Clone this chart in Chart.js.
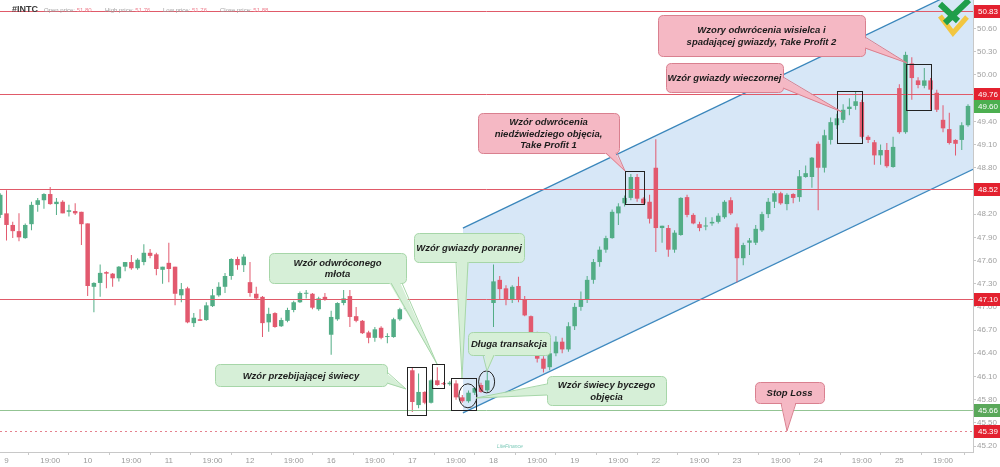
<!DOCTYPE html>
<html>
<head>
<meta charset="utf-8">
<script src="https://cdn.jsdelivr.net/npm/chart.js@4/dist/chart.umd.min.js"></script>
<style>
  html, body { margin: 0; padding: 0; background: #fff; }
  canvas { display: block; }
</style>
</head>
<body>
<canvas id="chart" width="1000" height="467"></canvas>
<script>
// INTC 30-minute candles, one entry per bar
const open = [
  48.19, 48.21, 48.06, 47.98, 47.89, 48.07, 48.32, 48.38, 48.46, 48.33, 48.36, 48.23, 48.24, 48.23,
  48.08, 47.26, 47.31, 47.45, 47.43, 47.37, 47.52, 47.58, 47.50, 47.58, 47.70, 47.68, 47.48,
  47.57, 47.52, 47.15, 47.24, 46.79, 46.84, 46.83, 47.01, 47.15, 47.26, 47.40, 47.62, 47.54,
  47.32, 47.17, 47.13, 46.80, 46.92, 46.75, 46.82, 46.96, 47.06, 47.17, 47.17, 46.97, 47.13,
  46.64, 46.84, 47.05, 47.14, 46.88, 46.82, 46.67, 46.60, 46.73, 46.61, 46.61, 46.84, 46.97,
  46.18, 45.73, 45.90, 45.76, 46.05, 46.01, 46.00, 46.01, 45.83, 45.78, 45.89, 45.99, 45.92,
  47.05, 47.35, 47.24, 47.09, 47.27, 47.10, 46.88, 46.66, 46.33, 46.22, 46.40, 46.55, 46.45,
  46.75, 47.00, 47.10, 47.35, 47.58, 47.74, 47.89, 48.21, 48.34, 48.41, 48.68, 48.40, 48.36,
  48.80, 48.02, 48.02, 47.74, 47.93, 48.42, 48.19, 48.07, 48.04, 48.08, 48.10, 48.16, 48.38,
  48.03, 47.63, 47.83, 47.83, 47.99, 48.20, 48.36, 48.47, 48.33, 48.46, 48.42, 48.68, 48.68,
  49.11, 48.80, 49.16, 49.35, 49.42, 49.56, 49.60, 49.65, 49.20, 49.13, 48.96, 49.03, 48.81,
  49.83, 49.26, 50.15, 49.93, 49.86, 49.93, 49.77, 49.42, 49.30, 49.16, 49.16, 49.35
];
const high = [
  48.47, 48.51, 48.10, 48.21, 48.08, 48.36, 48.41, 48.47, 48.55, 48.41, 48.38, 48.32, 48.34, 48.23,
  48.08, 47.32, 47.55, 47.46, 47.44, 47.53, 47.58, 47.67, 47.63, 47.81, 47.75, 47.70, 47.52,
  47.83, 47.52, 47.31, 47.26, 46.92, 46.97, 47.06, 47.23, 47.32, 47.44, 47.63, 47.65, 47.68,
  47.58, 47.26, 47.14, 46.99, 46.93, 46.86, 46.99, 47.08, 47.20, 47.22, 47.18, 47.13, 47.18,
  46.95, 47.06, 47.22, 47.22, 47.00, 46.83, 46.69, 46.74, 46.75, 46.66, 46.86, 46.99, 47.11,
  46.22, 46.14, 45.91, 46.06, 46.22, 46.03, 46.04, 46.05, 45.86, 45.92, 45.96, 46.02, 46.16,
  47.55, 47.40, 47.28, 47.28, 47.39, 47.14, 46.89, 46.68, 46.36, 46.45, 46.62, 46.60, 46.80,
  47.05, 47.20, 47.40, 47.62, 47.78, 47.92, 48.26, 48.34, 48.44, 48.72, 48.72, 48.42, 48.45,
  49.17, 48.05, 48.06, 47.99, 48.42, 48.45, 48.21, 48.10, 48.16, 48.16, 48.21, 48.38, 48.42,
  48.08, 47.83, 47.89, 48.06, 48.23, 48.41, 48.50, 48.49, 48.47, 48.47, 48.77, 48.83, 48.94,
  49.14, 49.29, 49.45, 49.50, 49.62, 49.70, 49.78, 49.68, 49.22, 49.16, 49.10, 49.12, 49.20,
  49.88, 50.30, 50.23, 49.97, 50.09, 49.96, 49.81, 49.61, 49.51, 49.17, 49.39, 49.62
];
const low = [
  48.15, 47.86, 47.89, 47.85, 47.88, 47.99, 48.23, 48.27, 48.32, 48.19, 48.21, 48.17, 48.19, 47.80,
  47.14, 46.93, 47.13, 47.24, 47.26, 47.33, 47.46, 47.48, 47.48, 47.54, 47.63, 47.41, 47.30,
  47.32, 47.02, 47.06, 46.79, 46.74, 46.82, 46.82, 47.00, 47.13, 47.18, 47.35, 47.48, 47.45,
  47.13, 47.09, 46.61, 46.68, 46.73, 46.74, 46.80, 46.93, 47.05, 47.11, 46.97, 46.95, 47.08,
  46.38, 46.82, 47.02, 46.74, 46.80, 46.65, 46.53, 46.55, 46.58, 46.53, 46.60, 46.82, 46.95,
  45.64, 45.69, 45.74, 45.75, 45.98, 45.99, 45.98, 45.80, 45.76, 45.76, 45.86, 45.89, 45.90,
  46.74, 47.09, 47.02, 47.05, 47.06, 46.88, 46.61, 46.28, 46.15, 46.18, 46.36, 46.40, 46.42,
  46.70, 46.95, 47.05, 47.30, 47.52, 47.70, 47.88, 48.06, 48.30, 48.38, 48.36, 48.32, 48.08,
  47.71, 47.83, 47.65, 47.70, 47.92, 48.16, 48.07, 47.98, 47.99, 48.05, 48.08, 48.14, 48.19,
  47.32, 47.54, 47.67, 47.80, 47.97, 48.15, 48.28, 48.32, 48.25, 48.34, 48.36, 48.67, 48.54,
  48.25, 48.74, 49.10, 49.30, 49.38, 49.48, 49.55, 49.18, 49.12, 48.84, 48.84, 48.80, 48.80,
  49.24, 49.24, 49.68, 49.83, 49.83, 49.55, 49.52, 49.26, 49.10, 48.96, 49.03, 49.33
];
const close = [
  48.45, 48.06, 47.98, 47.90, 48.06, 48.32, 48.38, 48.46, 48.33, 48.36, 48.21, 48.25, 48.21, 48.07,
  47.27, 47.31, 47.44, 47.43, 47.37, 47.52, 47.58, 47.50, 47.61, 47.70, 47.66, 47.49, 47.52,
  47.49, 47.17, 47.23, 46.80, 46.86, 46.82, 47.02, 47.15, 47.26, 47.40, 47.62, 47.54, 47.65,
  47.18, 47.11, 46.79, 46.91, 46.74, 46.83, 46.96, 47.06, 47.18, 47.18, 46.99, 47.11, 47.09,
  46.87, 47.05, 47.11, 46.87, 46.82, 46.66, 46.60, 46.71, 46.60, 46.62, 46.84, 46.97, 47.08,
  45.77, 45.90, 45.76, 46.05, 45.99, 46.00, 46.02, 45.83, 45.78, 45.89, 45.95, 45.90, 46.05,
  47.33, 47.23, 47.09, 47.26, 47.09, 46.89, 46.66, 46.33, 46.20, 46.40, 46.55, 46.45, 46.75,
  47.00, 47.10, 47.35, 47.58, 47.74, 47.89, 48.23, 48.30, 48.41, 48.68, 48.40, 48.34, 48.14,
  48.02, 48.05, 47.74, 47.96, 48.41, 48.19, 48.08, 48.02, 48.05, 48.10, 48.18, 48.36, 48.21,
  47.63, 47.80, 47.86, 48.01, 48.20, 48.36, 48.47, 48.34, 48.45, 48.41, 48.69, 48.73, 48.93,
  48.80, 49.22, 49.39, 49.44, 49.55, 49.59, 49.66, 49.20, 49.16, 48.96, 49.03, 48.82, 49.07,
  49.26, 50.26, 49.96, 49.87, 49.93, 49.81, 49.55, 49.31, 49.12, 49.11, 49.35, 49.60
];

// x axis: first bar of each session and the 19:00 bar
const dayLabels = ['9', '10', '11', '12', '16', '17', '18', '19', '22', '23', '24', '25'];
const dayStart = [1, 14, 27, 40, 53, 66, 79, 92, 105, 118, 131, 144];
const yTicks = [45.20, 45.50, 45.80, 46.10, 46.40, 46.70, 47.00, 47.30, 47.60, 47.90,
                48.20, 48.50, 48.80, 49.10, 49.40, 49.70, 50.00, 50.30, 50.60];

// levels drawn on the chart
const redLevels = [50.83, 49.76, 48.52, 47.10];
const greenLevel = 45.66;
const stopLevel = 45.39;
const lastPrice = 49.60;

// rising channel (bar index, price)
const channelTop = [{ x: 74.1, y: 48.02 }, { x: 155.8, y: 51.18 }];
const channelBottom = [{ x: 74.1, y: 45.63 }, { x: 155.8, y: 48.78 }];

// pattern markers (bar index range, price range)
const patternBoxes = [
  { i0: 65.1, i1: 68.2, v0: 45.60, v1: 46.22 },
  { i0: 69.1, i1: 71.1, v0: 45.95, v1: 46.26 },
  { i0: 72.2, i1: 76.2, v0: 45.67, v1: 46.08 },
  { i0: 100.0, i1: 103.1, v0: 48.33, v1: 48.76 },
  { i0: 134.0, i1: 138.0, v0: 49.12, v1: 49.79 },
  { i0: 145.0, i1: 149.0, v0: 49.55, v1: 50.14 }
];
const patternRings = [
  { i: 74.9, v: 45.85, rx: 9, ry: 12 },
  { i: 77.9, v: 46.03, rx: 8, ry: 11 }
];

const GREEN = '#52ad86';
const RED = '#e2596e';

const idx = open.map((_, i) => i);
const candleColors = idx.map(i => close[i] >= open[i] ? GREEN : RED);

const xTicks = [];
const xTickLabel = {};
dayStart.forEach((d, k) => {
  xTicks.push(d, d + 7);
  xTickLabel[d] = dayLabels[k];
  xTickLabel[d + 7] = '19:00';
});

const callouts = [
  { lines: ['Wzór odwróconego', 'młota'], x: 269, y: 253, w: 137, h: 30, kind: 'g', base: [[391, 283], [402, 283]], tip: [437, 364] },
  { lines: ['Wzór gwiazdy porannej'], x: 414, y: 233, w: 110, h: 29, kind: 'g', base: [[456, 262], [468, 262]], tip: [462, 378] },
  { lines: ['Wzór przebijającej świecy'], x: 215, y: 364, w: 172, h: 22, kind: 'g', base: [[387, 372], [387, 383]], tip: [406, 389] },
  { lines: ['Długa transakcja'], x: 468, y: 332, w: 82, h: 23, kind: 'g', base: [[483, 355], [494, 355]], tip: [487, 371] },
  { lines: ['Wzór świecy byczego', 'objęcia'], x: 547, y: 376, w: 119, h: 29, kind: 'g', base: [[547, 384], [547, 395]], tip: [476, 398] },
  { lines: ['Stop Loss'], x: 755, y: 382, w: 69, h: 21, kind: 'r', base: [[781, 403], [796, 403]], tip: [787, 431] },
  { lines: ['Wzór odwrócenia', 'niedźwiedziego objęcia,', 'Take Profit 1'], x: 478, y: 113, w: 141, h: 40, kind: 'r', base: [[606, 153], [617, 153]], tip: [625, 171] },
  { lines: ['Wzory odwrócenia wisielca i', 'spadającej gwiazdy, Take Profit 2'], x: 658, y: 15, w: 207, h: 41, kind: 'r', base: [[865, 37], [865, 48]], tip: [907, 63] },
  { lines: ['Wzór gwiazdy wieczornej'], x: 666, y: 63, w: 117, h: 29, kind: 'r', base: [[783, 77], [783, 88]], tip: [842, 112] }
];

function roundRectPath(ctx, x, y, w, h, r) {
  ctx.beginPath();
  ctx.moveTo(x + r, y);
  ctx.lineTo(x + w - r, y);
  ctx.quadraticCurveTo(x + w, y, x + w, y + r);
  ctx.lineTo(x + w, y + h - r);
  ctx.quadraticCurveTo(x + w, y + h, x + w - r, y + h);
  ctx.lineTo(x + r, y + h);
  ctx.quadraticCurveTo(x, y + h, x, y + h - r);
  ctx.lineTo(x, y + r);
  ctx.quadraticCurveTo(x, y, x + r, y);
  ctx.closePath();
}

function drawCallout(ctx, c) {
  const fill = c.kind === 'g' ? '#d6efd7' : '#f5b8c4';
  const stroke = c.kind === 'g' ? '#a6d6a8' : '#d9808f';
  ctx.save();
  ctx.lineWidth = 1;
  roundRectPath(ctx, c.x + 0.5, c.y + 0.5, c.w, c.h, 5);
  ctx.fillStyle = fill;
  ctx.fill();
  ctx.strokeStyle = stroke;
  ctx.stroke();
  // pointer, pushed a little into the box to hide the border under it
  const cx = c.x + c.w / 2, cy = c.y + c.h / 2;
  const mx = (c.base[0][0] + c.base[1][0]) / 2, my = (c.base[0][1] + c.base[1][1]) / 2;
  const d = Math.hypot(cx - mx, cy - my) || 1;
  const ox = (cx - mx) / d * 2, oy = (cy - my) / d * 2;
  ctx.beginPath();
  ctx.moveTo(c.base[0][0] + ox, c.base[0][1] + oy);
  ctx.lineTo(c.tip[0], c.tip[1]);
  ctx.lineTo(c.base[1][0] + ox, c.base[1][1] + oy);
  ctx.closePath();
  ctx.fillStyle = fill;
  ctx.fill();
  ctx.beginPath();
  ctx.moveTo(c.base[0][0], c.base[0][1]);
  ctx.lineTo(c.tip[0], c.tip[1]);
  ctx.lineTo(c.base[1][0], c.base[1][1]);
  ctx.strokeStyle = stroke;
  ctx.stroke();
  // text
  ctx.fillStyle = '#1c1c1c';
  ctx.font = 'italic bold 9.5px "Liberation Sans", Arial, sans-serif';
  ctx.textAlign = 'center';
  ctx.textBaseline = 'middle';
  const lh = 11.5;
  const y0 = cy + 1 - (c.lines.length - 1) * lh / 2;
  c.lines.forEach((t, k) => ctx.fillText(t, cx, y0 + k * lh));
  ctx.restore();
}

function hline(ctx, area, py, color, dash) {
  const yy = Math.round(py) + 0.5;
  ctx.save();
  ctx.strokeStyle = color;
  ctx.lineWidth = 1;
  ctx.setLineDash(dash);
  ctx.beginPath();
  ctx.moveTo(area.left, yy);
  ctx.lineTo(area.right, yy);
  ctx.stroke();
  ctx.restore();
}

function priceTag(ctx, area, py, value, color) {
  ctx.save();
  ctx.fillStyle = color;
  ctx.fillRect(area.right + 1, Math.round(py) - 6, 1000 - area.right - 1, 13);
  ctx.fillStyle = '#fff';
  ctx.font = '8px "Liberation Sans", Arial, sans-serif';
  ctx.textAlign = 'left';
  ctx.textBaseline = 'middle';
  ctx.fillText(value.toFixed(2), area.right + 5, Math.round(py) + 0.5);
  ctx.restore();
}

const overlay = {
  id: 'overlay',
  afterDatasetsDraw(chart) {
    const { ctx, chartArea: a, scales: { x, y } } = chart;
    redLevels.forEach(v => hline(ctx, a, y.getPixelForValue(v), '#e05a69', []));
    hline(ctx, a, y.getPixelForValue(greenLevel), '#93c493', []);
    hline(ctx, a, y.getPixelForValue(stopLevel), '#e5828e', [2, 3]);

    ctx.save();
    ctx.strokeStyle = '#222';
    ctx.lineWidth = 1;
    patternBoxes.forEach(b => {
      const x0 = Math.round(x.getPixelForValue(b.i0)) + 0.5;
      const x1 = Math.round(x.getPixelForValue(b.i1)) + 0.5;
      const y0 = Math.round(y.getPixelForValue(b.v1)) + 0.5;
      const y1 = Math.round(y.getPixelForValue(b.v0)) + 0.5;
      ctx.strokeRect(x0, y0, x1 - x0, y1 - y0);
    });
    patternRings.forEach(r => {
      ctx.beginPath();
      ctx.ellipse(x.getPixelForValue(r.i), y.getPixelForValue(r.v), r.rx, r.ry, 0, 0, Math.PI * 2);
      ctx.stroke();
    });
    ctx.restore();
  },
  afterDraw(chart) {
    const { ctx, chartArea: a, scales: { y } } = chart;
    callouts.forEach(c => drawCallout(ctx, c));

    redLevels.forEach(v => priceTag(ctx, a, y.getPixelForValue(v), v, '#e3212f'));
    priceTag(ctx, a, y.getPixelForValue(lastPrice), lastPrice, '#4caf50');
    priceTag(ctx, a, y.getPixelForValue(greenLevel), greenLevel, '#5aa85a');
    priceTag(ctx, a, y.getPixelForValue(stopLevel), stopLevel, '#e3212f');

    // header
    ctx.save();
    ctx.textBaseline = 'middle';
    ctx.fillStyle = '#3a3a3a';
    ctx.font = 'bold 9px "Liberation Sans", Arial, sans-serif';
    ctx.fillText('#INTC', 12, 10);
    const info = [['Open price:', '51.80', 44], ['High price:', '51.76', 105], ['Low price:', '51.76', 163], ['Close price:', '51.88', 220]];
    ctx.font = '6px "Liberation Sans", Arial, sans-serif';
    info.forEach(([lab, val, px]) => {
      ctx.fillStyle = '#a0a0a0';
      ctx.fillText(lab, px, 10);
      ctx.fillStyle = '#ee8290';
      ctx.fillText(val, px + ctx.measureText(lab + ' ').width, 10);
    });

    // logo, top right
    ctx.lineCap = 'butt';
    ctx.lineWidth = 5;
    ctx.strokeStyle = '#f2c640';
    ctx.beginPath();
    ctx.moveTo(940, 16); ctx.lineTo(953, 33); ctx.lineTo(967, 17);
    ctx.stroke();
    ctx.strokeStyle = '#1f9e4a';
    ctx.lineWidth = 6;
    ctx.beginPath();
    ctx.moveTo(940, 4); ctx.lineTo(958, 21);
    ctx.moveTo(945, 23); ctx.lineTo(969, 0);
    ctx.stroke();

    // watermark
    ctx.font = 'italic 5px "Liberation Sans", Arial, sans-serif';
    ctx.fillStyle = '#7cc9b8';
    ctx.fillText('LiteFinance', 497, 447);
    ctx.restore();
  }
};

new Chart(document.getElementById('chart'), {
  type: 'bar',
  data: {
    datasets: [
      {
        label: 'wicks',
        data: idx.map(i => ({ x: i, y: [low[i], high[i]] })),
        backgroundColor: candleColors,
        grouped: false,
        maxBarThickness: 1,
        order: 2
      },
      {
        label: 'bodies',
        data: idx.map(i => ({ x: i, y: [open[i], close[i]] })),
        backgroundColor: candleColors,
        grouped: false,
        maxBarThickness: 4.5,
        minBarLength: 1,
        order: 1
      },
      {
        type: 'line',
        label: 'channel top',
        data: channelTop,
        borderColor: '#3a86bb',
        borderWidth: 1.3,
        pointRadius: 0,
        fill: '+1',
        backgroundColor: 'rgba(110,170,225,0.28)',
        order: 5
      },
      {
        type: 'line',
        label: 'channel bottom',
        data: channelBottom,
        borderColor: '#3a86bb',
        borderWidth: 1.3,
        pointRadius: 0,
        fill: false,
        order: 6
      }
    ]
  },
  options: {
    responsive: false,
    animation: false,
    layout: { padding: 0 },
    plugins: { legend: { display: false }, tooltip: { enabled: false } },
    scales: {
      x: {
        type: 'linear',
        min: -0.04,
        max: 155.8,
        offset: false,
        grid: { drawOnChartArea: false, drawTicks: true, tickLength: 3, color: '#c8c8c8' },
        border: { color: '#c8c8c8' },
        ticks: {
          autoSkip: false,
          maxRotation: 0,
          padding: 1,
          color: '#9a9a9a',
          font: { size: 8, family: '"Liberation Sans", Arial, sans-serif' },
          callback: v => xTickLabel[v] || ''
        },
        afterBuildTicks: s => { s.ticks = xTicks.map(v => ({ value: v })); },
        afterFit: s => { s.height = 15; s.paddingLeft = 0; s.paddingRight = 0; }
      },
      y: {
        position: 'right',
        min: 45.123,
        max: 50.97,
        grid: { drawOnChartArea: false, drawTicks: true, tickLength: 3, color: '#c8c8c8' },
        border: { color: '#c8c8c8' },
        ticks: {
          autoSkip: false,
          padding: 1,
          color: '#a0a0a0',
          font: { size: 8, family: '"Liberation Sans", Arial, sans-serif' },
          callback: v => Number(v).toFixed(2)
        },
        afterBuildTicks: s => { s.ticks = yTicks.map(v => ({ value: v })); },
        afterFit: s => { s.width = 27; s.paddingTop = 0; s.paddingBottom = 0; }
      }
    }
  },
  plugins: [overlay]
});
</script>
</body>
</html>
